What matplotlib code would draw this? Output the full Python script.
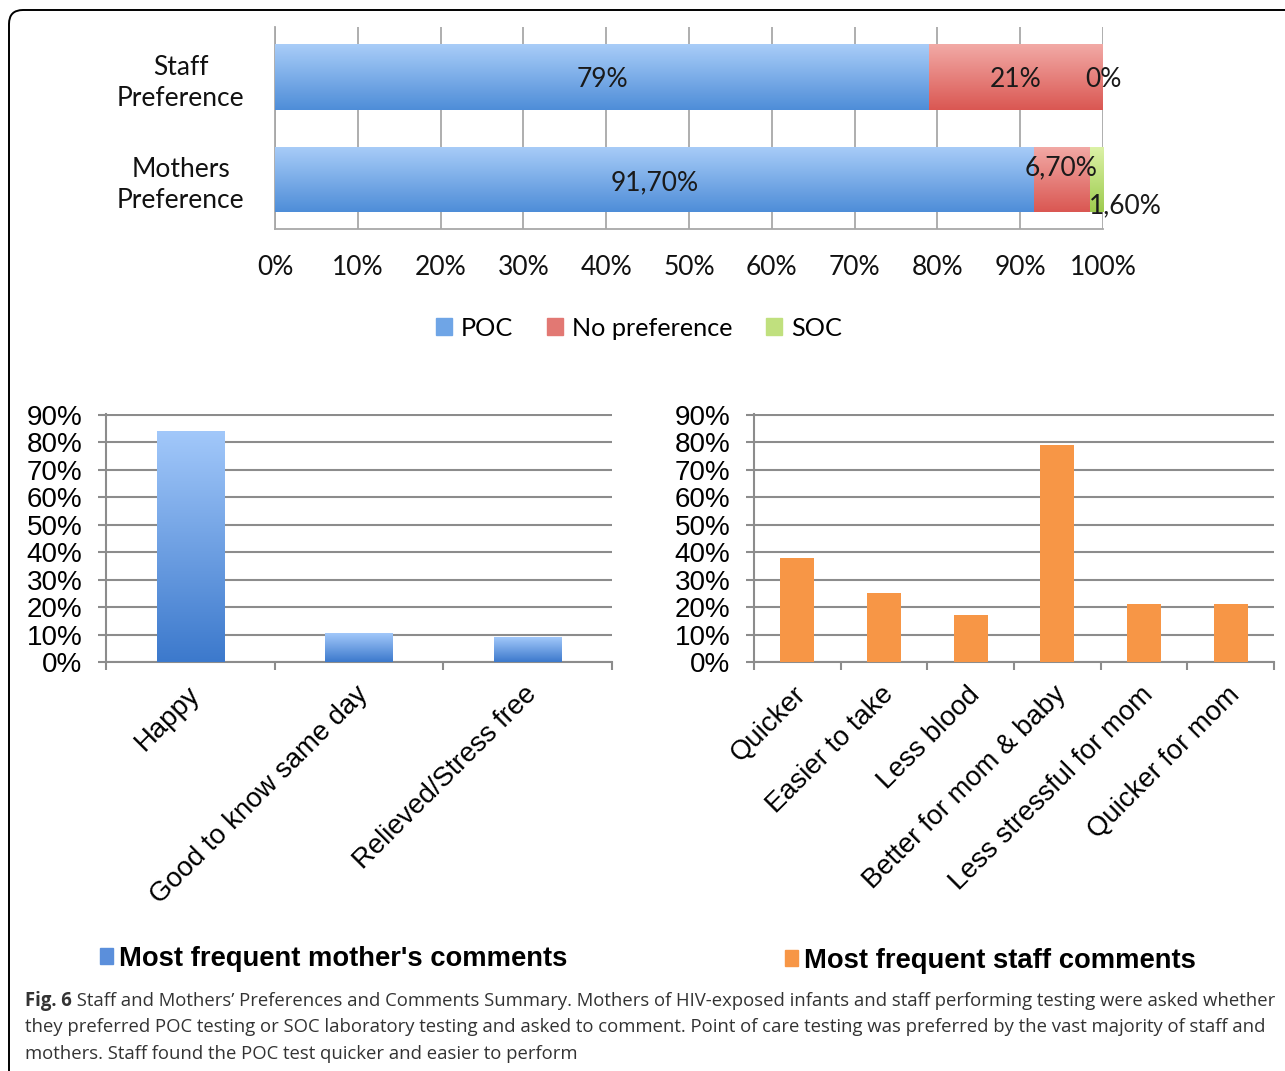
import numpy as np
import matplotlib
matplotlib.use('Agg')
import matplotlib.pyplot as plt
from matplotlib.colors import LinearSegmentedColormap
from matplotlib.patches import Patch, FancyBboxPatch
from matplotlib.transforms import IdentityTransform, ScaledTranslation

# ---------------- data ----------------
pref_groups = ['Mothers\nPreference', 'Staff\nPreference']
poc = [91.7, 79.0]
nopref = [6.7, 21.0]
soc = [1.6, 0.0]
poc_labels = ['91,70%', '79%']
nopref_labels = ['6,70%', '21%']
soc_labels = ['1,60%', '0%']
pref_series = ['POC', 'No preference', 'SOC']

mother_cats = ['Happy', 'Good to know same day', 'Relieved/Stress free']
mother_vals = [0.84, 0.105, 0.09]
staff_cats = ['Quicker', 'Easier to take', 'Less blood', 'Better for mom & baby',
              'Less stressful for mom', 'Quicker for mom']
staff_vals = [0.38, 0.25, 0.17, 0.79, 0.21, 0.21]

pct_ticks = [0, 10, 20, 30, 40, 50, 60, 70, 80, 90, 100]
y_ticks = [0, .1, .2, .3, .4, .5, .6, .7, .8, .9]

caption_bold = 'Fig. 6'
caption_lines = [
    ' Staff and Mothers\u2019 Preferences and Comments Summary. Mothers of HIV-exposed infants and staff performing testing were asked whether',
    'they preferred POC testing or SOC laboratory testing and asked to comment. Point of care testing was preferred by the vast majority of staff and',
    'mothers. Staff found the POC test quicker and easier to perform',
]

W, H = 1285, 1071
fig = plt.figure(figsize=(W / 100, H / 100), dpi=100)


def fx(px):
    return px / W


def fy(py):
    return 1 - py / H


def grad_fill(ax, patches, c_top, c_bot):
    cmap = LinearSegmentedColormap.from_list('g', [c_bot, c_top])
    grad = np.linspace(0, 1, 256).reshape(-1, 1)
    for p in patches:
        bb = p.get_bbox()
        if bb.width == 0 or bb.height == 0:
            continue
        im = ax.imshow(grad, extent=[bb.x0, bb.x1, bb.y0, bb.y1], origin='lower',
                       cmap=cmap, aspect='auto', zorder=p.get_zorder(), interpolation='bilinear')
        im.set_clip_path(p)
        p.set_facecolor('none')


# ---------------- frame ----------------
frame = FancyBboxPatch((9, -30), 1320, H - 10 + 30, boxstyle='round,pad=0,rounding_size=14',
                       transform=IdentityTransform(), fill=False, edgecolor='black', lw=1.4)
fig.patches.append(frame)

# ---------------- top stacked bar ----------------
top_font = 'Lato'
tfs = 19
ax1 = fig.add_axes([fx(275), fy(229), fx(1103) - fx(275), fy(27) - fy(229)])
yy = np.arange(len(pref_groups))
h = 0.64
left2 = np.array(poc)
left3 = np.array(poc) + np.array(nopref)
c1 = ax1.barh(yy, poc, height=h, color='#6FA5E6', zorder=3)
c2 = ax1.barh(yy, nopref, left=left2, height=h, color='#E27873', zorder=3)
c3 = ax1.barh(yy, soc, left=left3, height=h, color='#C0E07E', zorder=3)
ax1.set_xlim(0, 100)
ax1.set_ylim(-0.483, 1.49)
grad_fill(ax1, c1.patches, '#A9CDF8', '#4E8DD8')
grad_fill(ax1, c2.patches, '#F2AAA6', '#DA5752')
grad_fill(ax1, c3.patches, '#DDF2A8', '#9DCB4E')
ax1.set_xlim(0, 100)
ax1.set_ylim(-0.483, 1.49)

ax1.set_xticks(pct_ticks)
ax1.set_xticklabels([f'{t}%' for t in pct_ticks], fontsize=tfs, family=top_font, color='#111')
ax1.set_yticks(yy)
ax1.set_yticklabels(pref_groups, fontsize=tfs, family=top_font, color='#111', ha='center',
                    multialignment='center', linespacing=1.3)
ax1.tick_params(axis='x', length=0, pad=19)
ax1.tick_params(axis='y', length=0, pad=68)
ax1.grid(axis='x', color='#A8A8A8', lw=1.3, zorder=0)
ax1.set_axisbelow(True)
for s in ['top', 'right']:
    ax1.spines[s].set_visible(False)
for s in ['left', 'bottom']:
    ax1.spines[s].set_color('#A8A8A8')
    ax1.spines[s].set_linewidth(1.3)

offsets = {('n', 0): (-1, 8.5), ('s', 0): (21, -19)}
for key, cont, labs, lefts in [('p', c1, poc_labels, np.zeros(2)), ('n', c2, nopref_labels, left2),
                               ('s', c3, soc_labels, left3)]:
    for i, (p, lab) in enumerate(zip(cont.patches, labs)):
        bb = p.get_bbox()
        cx = (bb.x0 + bb.x1) / 2
        cy = (bb.y0 + bb.y1) / 2
        off = offsets.get((key, i), (0, -2))
        ax1.annotate(lab, (cx, cy), xytext=off, textcoords='offset points', ha='center', va='center',
                     fontsize=tfs, family=top_font, color='#1a1a1a', zorder=5, annotation_clip=False)

leg1 = fig.legend(handles=[Patch(color='#6FA5E6'), Patch(color='#E27873'), Patch(color='#C0E07E')],
                  labels=pref_series, loc='center', bbox_to_anchor=(fx(639), fy(328)), ncol=3,
                  frameon=False, prop={'family': top_font, 'size': 18.2}, handlelength=0.62,
                  handleheight=0.62, handletextpad=0.35, columnspacing=1.35)

# ---------------- bottom bar charts ----------------
bot_font = 'Liberation Sans'


def style_bottom(ax, n, cats):
    ax.set_xlim(-0.5, n - 0.5)
    ax.set_ylim(0, 0.902)
    ax.set_yticks(y_ticks)
    ax.set_yticklabels([f'{int(round(t * 100))}%' for t in y_ticks], fontsize=20, family=bot_font)
    ax.set_xticks(np.arange(n))
    ax.set_xticklabels(cats, rotation=45, ha='right', rotation_mode='anchor', fontsize=19.8,
                       family=bot_font)
    ax.set_xticks(np.arange(n + 1) - 0.5, minor=True)
    ax.tick_params(axis='x', which='major', length=0, pad=14)
    ax.tick_params(axis='x', which='minor', length=6, width=1.5, color='#8C8C8C', direction='out')
    ax.tick_params(axis='y', length=6, width=1.5, color='#8C8C8C', pad=11)
    ax.grid(axis='y', color='#8C8C8C', lw=1.5, zorder=0)
    ax.set_axisbelow(True)
    for s in ['top', 'right']:
        ax.spines[s].set_visible(False)
    for s in ['left', 'bottom']:
        ax.spines[s].set_color('#8C8C8C')
        ax.spines[s].set_linewidth(1.5)
    for lab in ax.get_xticklabels():
        lab.set_transform(lab.get_transform() + ScaledTranslation(-4 / 100, 0, fig.dpi_scale_trans))


ax2 = fig.add_axes([fx(106), fy(662), fx(612) - fx(106), fy(414) - fy(662)])
bm = ax2.bar(np.arange(len(mother_cats)), mother_vals, width=0.4, color='#6A9FE4', zorder=3)
style_bottom(ax2, len(mother_cats), mother_cats)
grad_fill(ax2, bm.patches, '#A2C8FA', '#3C79CC')
ax2.set_xlim(-0.5, len(mother_cats) - 0.5)
ax2.set_ylim(0, 0.902)

ax3 = fig.add_axes([fx(754), fy(662), fx(1274) - fx(754), fy(414) - fy(662)])
ax3.bar(np.arange(len(staff_cats)), staff_vals, width=0.39, color='#F79646', zorder=3)
style_bottom(ax3, len(staff_cats), staff_cats)

lp = {'family': bot_font, 'size': 19.7, 'weight': 'bold'}
fig.legend(handles=[Patch(color='#5B8FDB')], labels=['Most frequent mother\'s comments'],
           loc='center left', bbox_to_anchor=(fx(75), fy(959)), frameon=False,
           prop=lp, handlelength=0.5, handleheight=0.5, handletextpad=0.2)
fig.legend(handles=[Patch(color='#F79646')], labels=['Most frequent staff comments'],
           loc='center left', bbox_to_anchor=(fx(760), fy(961)), frameon=False,
           prop=lp, handlelength=0.5, handleheight=0.5, handletextpad=0.2)

# ---------------- caption ----------------
cap_font = 'Open Sans'
renderer = fig.canvas.get_renderer()
fs = 13.0
tb = fig.text(fx(25), fy(1001), caption_bold, fontsize=fs, family=cap_font, weight='bold',
              color='#333333', va='center')
tr = fig.text(fx(25), fy(1001), caption_lines[0], fontsize=fs, family=cap_font, color='#333333',
              va='center')
wb = tb.get_window_extent(renderer).width
wr = tr.get_window_extent(renderer).width
scale = (1273 - 25) / (wb + wr)
fs = fs * scale
tb.set_fontsize(fs)
tr.set_fontsize(fs)
wb = tb.get_window_extent(renderer).width
tr.set_x(fx(25 + wb))
for ln, ypx in zip(caption_lines[1:], [1027, 1054]):
    fig.text(fx(25), fy(ypx), ln, fontsize=fs, family=cap_font, color='#333333', va='center')

fig.savefig('out.png', dpi=100)
